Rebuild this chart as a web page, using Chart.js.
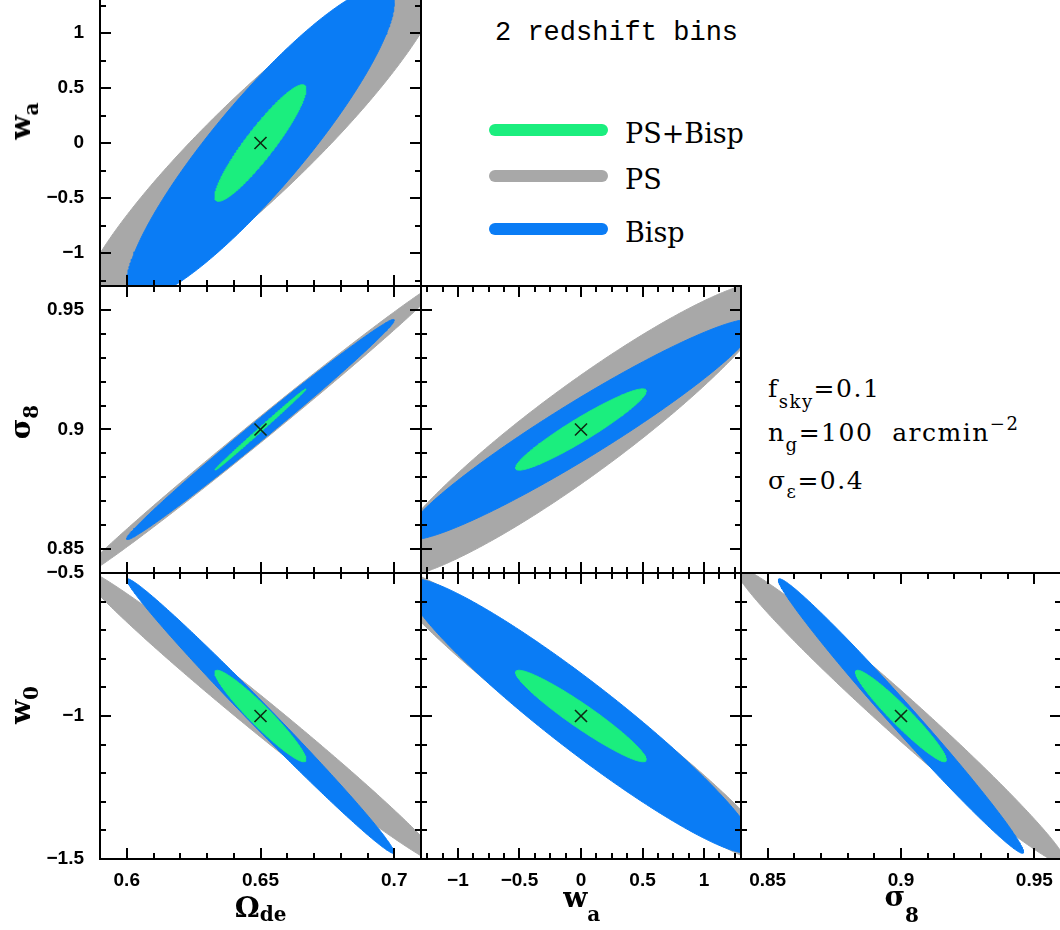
<!DOCTYPE html>
<html>
<head>
<meta charset="utf-8">
<script src="https://cdn.jsdelivr.net/npm/chart.js@4.4.1/dist/chart.umd.min.js"></script>
<style>
  html, body { margin: 0; padding: 0; background: #fff; }
  #page { position: relative; width: 1060px; height: 930px; overflow: hidden; background: #fff; }
  #page canvas { position: absolute; }
  .txt { position: absolute; white-space: nowrap; color: #000; line-height: 1; }
  .sub, .sup { position: relative; }
</style>
</head>
<body>
<div id="page"></div>
<script>
// parameter order: Omega_de, w_a, sigma_8, w_0
const paramNames = ["Ω", "w", "σ", "w"];
const paramSubs = ["de", "a", "8", "0"];
const fiducial = [0.65, 0, 0.9, -1];
const axisMin = [0.59, -1.3, 0.84, -1.5];
const axisMax = [0.71, 1.3, 0.96, -0.5];
const majorStep = [0.05, 0.5, 0.05, 0.5];
const minorStepX = [0.01, 0.125, 0.01, 0.1];
const minorStepY = [0.01, 0.25, 0.01, 0.1];

const probes = ["PS+Bisp", "PS", "Bisp"];
const probeColors = ["#1bee7e", "#a8a8a8", "#0a7cf5"];

// half extent of each contour along Omega_de, w_a, sigma_8, w_0
const extentPSBisp = [0.017, 0.53, 0.017, 0.16];
const extentPS = [0.068, 1.6, 0.062, 0.52];
const extentBisp = [0.05, 1.42, 0.046, 0.48];

// panels as [x param, y param]
const panelPairs = [[0, 1], [0, 2], [1, 2], [0, 3], [1, 3], [2, 3]];
// correlation coefficient of the contour in each panel
const corrPSBisp = [0.92, 0.998, 0.945, -0.95, -0.95, -0.955];
const corrPS = [0.92, 0.996, 0.93, -0.99, -0.965, -0.985];
const corrBisp = [0.9, 0.994, 0.955, -0.993, -0.95, -0.99];

// grid of panels on the page
const colEdges = [100, 421, 741, 1061];
const rowEdges = [0, 286, 573, 859];

const page = document.getElementById("page");
Chart.defaults.font.family = "Liberation Sans";

function addText(html, left, top, css) {
  const d = document.createElement("div");
  d.className = "txt";
  d.innerHTML = html;
  d.style.left = left + "px";
  d.style.top = top + "px";
  if (css) d.style.cssText += css;
  page.appendChild(d);
  return d;
}

function fmtTick(v) {
  return String(Math.round(v * 1000) / 1000).replace("-", "\u2212");
}

// boundary of a contour from its half extents and correlation
function ellipse(cx, cy, hx, hy, rho) {
  const pts = [];
  const s = Math.sqrt(1 - rho * rho);
  const n = 360;
  for (let i = 0; i <= n; i++) {
    const t = (i / n) * 2 * Math.PI;
    pts.push({ x: cx + hx * Math.cos(t), y: cy + hy * (rho * Math.cos(t) + s * Math.sin(t)) });
  }
  return pts;
}

// frame with inward ticks on every side
const framePlugin = {
  id: "frame",
  afterDraw(chart, args, opts) {
    const { ctx, chartArea: a, scales: { x, y } } = chart;
    ctx.save();
    ctx.strokeStyle = "#000";
    ctx.lineWidth = 2;
    ctx.lineCap = "square";
    ctx.beginPath();
    const isMajor = (v, step) => Math.abs(v / step - Math.round(v / step)) < 1e-6;
    for (let k = Math.ceil(x.min / opts.xMinor - 1e-6); k * opts.xMinor <= x.max + 1e-9; k++) {
      const v = k * opts.xMinor;
      const p = Math.round(x.getPixelForValue(v));
      const len = isMajor(v, opts.xMajor) ? 10 : 5;
      ctx.moveTo(p, a.bottom); ctx.lineTo(p, a.bottom - len);
      if (!opts.noTop) { ctx.moveTo(p, a.top); ctx.lineTo(p, a.top + len); }
    }
    for (let k = Math.ceil(y.min / opts.yMinor - 1e-6); k * opts.yMinor <= y.max + 1e-9; k++) {
      const v = k * opts.yMinor;
      const p = Math.round(y.getPixelForValue(v));
      const len = isMajor(v, opts.yMajor) ? 10 : 5;
      ctx.moveTo(a.left, p); ctx.lineTo(a.left + len, p);
      ctx.moveTo(a.right, p); ctx.lineTo(a.right - len, p);
    }
    ctx.moveTo(a.left, opts.noTop ? a.top - 5 : a.top);
    ctx.lineTo(a.left, a.bottom);
    ctx.lineTo(a.right, a.bottom);
    ctx.lineTo(a.right, opts.noTop ? a.top - 5 : a.top);
    if (!opts.noTop) ctx.lineTo(a.left, a.top);
    ctx.stroke();
    ctx.restore();
  }
};

const contourSets = [
  { ext: extentPSBisp, corr: corrPSBisp, probe: 0 },
  { ext: extentBisp, corr: corrBisp, probe: 2 },
  { ext: extentPS, corr: corrPS, probe: 1 }
];

panelPairs.forEach(([px, py], i) => {
  const col = px, row = py - 1;
  const left = colEdges[col], right = colEdges[col + 1];
  const top = rowEdges[row], bottom = rowEdges[row + 1];
  const showY = col === 0, showX = row === 2;
  const padL = showY ? 100 : 12, padB = showX ? 50 : 12, padT = 12, padR = 12;
  const W = right - left + padL + padR, H = bottom - top + padT + padB;

  const canvas = document.createElement("canvas");
  canvas.width = W;
  canvas.height = H;
  canvas.style.left = (left - padL) + "px";
  canvas.style.top = (top - padT) + "px";
  canvas.style.width = W + "px";
  canvas.style.height = H + "px";
  page.appendChild(canvas);

  const datasets = [{
    label: "fiducial",
    data: [{ x: fiducial[px], y: fiducial[py] }],
    showLine: false,
    pointStyle: "crossRot",
    pointRadius: 8.5,
    borderColor: "#0d2a12",
    borderWidth: 1.6,
    backgroundColor: "transparent"
  }];
  contourSets.forEach((c) => {
    const color = probeColors[c.probe];
    datasets.push({
      label: probes[c.probe],
      data: ellipse(fiducial[px], fiducial[py], c.ext[px], c.ext[py], c.corr[i]),
      borderColor: color,
      borderWidth: 1,
      backgroundColor: color,
      fill: "shape",
      pointRadius: 0,
      tension: 0
    });
  });

  new Chart(canvas, {
    type: "line",
    data: { datasets },
    options: {
      responsive: false,
      animation: false,
      events: [],
      layout: { padding: { top: padT, right: padR, left: 0, bottom: 0 } },
      plugins: {
        legend: { display: false },
        tooltip: { enabled: false },
        frame: {
          xMinor: minorStepX[px], xMajor: majorStep[px],
          yMinor: minorStepY[py], yMajor: majorStep[py],
          noTop: row === 0
        }
      },
      scales: {
        x: {
          type: "linear",
          min: axisMin[px],
          max: axisMax[px],
          grid: { display: false, drawTicks: false },
          border: { display: false },
          ticks: {
            display: showX,
            stepSize: majorStep[px],
            includeBounds: false,
            autoSkip: false,
            maxRotation: 0,
            padding: 10,
            color: "#000",
            font: { size: 19, weight: "bold" },
            callback: fmtTick
          },
          afterFit: (s) => {
            s.height = padB;
            s.paddingLeft = s.paddingRight = s.paddingTop = s.paddingBottom = 0;
          }
        },
        y: {
          type: "linear",
          min: axisMin[py],
          max: axisMax[py],
          grid: { display: false, drawTicks: false },
          border: { display: false },
          ticks: {
            display: showY,
            stepSize: majorStep[py],
            includeBounds: false,
            autoSkip: false,
            padding: 16,
            color: "#000",
            font: { size: 19, weight: "bold" },
            callback: fmtTick
          },
          afterFit: (s) => {
            s.width = padL;
            s.paddingLeft = s.paddingRight = s.paddingTop = s.paddingBottom = 0;
          }
        }
      }
    },
    plugins: [framePlugin]
  });
});

// axis titles
const xTitleCenter = [260.7, 581.7, 901.7];
const xTitleTop = [894, 884, 883];
const xTitleDrop = [4, 14, 16];
[0, 1, 2].forEach((p, k) => {
  addText(
    paramNames[p] + '<span class="sub" style="font-size:20px;top:' + xTitleDrop[k] + 'px">' + paramSubs[p] + "</span>",
    xTitleCenter[k], xTitleTop[k],
    'font-family:"DejaVu Serif";font-weight:bold;font-size:28px;transform:translateX(-50%);'
  );
});
const yTitleCenter = [121, 422, 705];
[1, 2, 3].forEach((p, k) => {
  addText(
    paramNames[p] + '<span class="sub" style="font-size:20px;top:8px">' + paramSubs[p] + "</span>",
    21, yTitleCenter[k],
    'font-family:"DejaVu Serif";font-weight:bold;font-size:28px;transform:translate(-50%,-50%) rotate(-90deg);'
  );
});

// title and legend
addText("2 redshift bins", 495, 20, 'font-family:"Liberation Mono";font-size:27px;');
const legendY = [130, 176, 229];
probes.forEach((name, k) => {
  const sw = document.createElement("div");
  sw.style.cssText = "position:absolute;left:489px;width:119px;height:12px;border-radius:6px;top:" +
    (legendY[k] - 6) + "px;background:" + probeColors[k] + ";";
  page.appendChild(sw);
  addText(name, 625, legendY[k] - 10, 'font-family:"DejaVu Serif";font-size:27px;');
});

// survey settings
const infoCss = 'font-family:"DejaVu Serif";font-size:25px;letter-spacing:1.5px;';
addText('f<span class="sub" style="font-size:18px;top:11px">sky</span>=0.1', 768, 376, infoCss);
addText('n<span class="sub" style="font-size:18px;top:10px">g</span>=100&nbsp;&nbsp;arcmin<span class="sup" style="font-size:18px;top:-11px">\u22122</span>', 768, 420, infoCss);
addText('σ<span class="sub" style="font-size:18px;top:9px">ε</span>=0.4', 768, 468, infoCss);
</script>
</body>
</html>
